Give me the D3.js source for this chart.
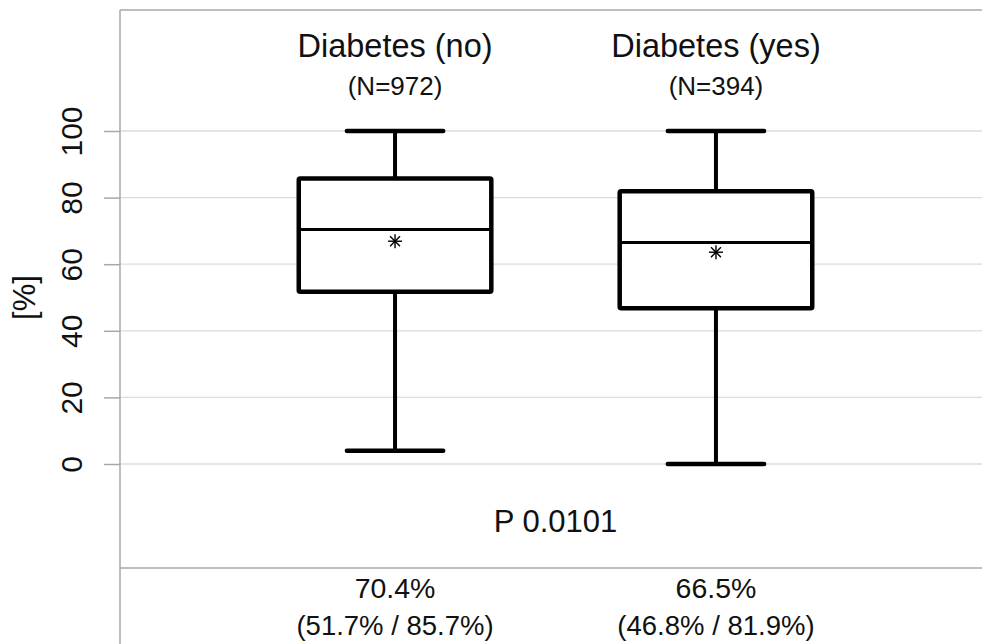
<!DOCTYPE html>
<html>
<head>
<meta charset="utf-8">
<script src="https://cdn.jsdelivr.net/npm/d3@7"></script>
<style>
  body { margin: 0; background: #fff; }
  text { font-family: "Liberation Sans", Arial, sans-serif; fill: #111; }
</style>
</head>
<body>
<svg id="boxplot"></svg>
<script>
// data
var groups = ["Diabetes (no)", "Diabetes (yes)"];
var counts = ["(N=972)", "(N=394)"];
var mins = [4, 0];
var q1s = [51.7, 46.8];
var medians = [70.4, 66.5];
var q3s = [85.7, 81.9];
var maxs = [100, 100];
var means = [66.9, 63.6];
var yTicks = [0, 20, 40, 60, 80, 100];
var pValue = "P 0.0101";

var width = 982, height = 644;
var plotLeft = 120, plotRight = 991, plotTop = 10, sepY = 568;

var svg = d3.select("svg#boxplot")
  .attr("width", width)
  .attr("height", height);

// scales
var x = d3.scalePoint()
  .domain(groups)
  .range([plotLeft, plotRight])
  .padding(0.857);
var y = d3.scaleLinear()
  .domain([0, 100])
  .range([464, 131]);

var step = x.step();
var boxW = step * 0.6;
var capW = step * 0.3;

// grid lines
svg.append("g")
  .selectAll("line")
  .data(yTicks)
  .enter().append("line")
  .attr("x1", plotLeft)
  .attr("x2", width)
  .attr("y1", function (d) { return y(d); })
  .attr("y2", function (d) { return y(d); })
  .attr("stroke", "#dcdcdc")
  .attr("stroke-width", 1.3);

// frame
svg.append("line")
  .attr("x1", plotLeft).attr("x2", width)
  .attr("y1", plotTop).attr("y2", plotTop)
  .attr("stroke", "#a8a8a8").attr("stroke-width", 1.5);
svg.append("line")
  .attr("x1", plotLeft).attr("x2", width)
  .attr("y1", sepY).attr("y2", sepY)
  .attr("stroke", "#a8a8a8").attr("stroke-width", 1.5);
svg.append("line")
  .attr("x1", plotLeft).attr("x2", plotLeft)
  .attr("y1", plotTop).attr("y2", height)
  .attr("stroke", "#a8a8a8").attr("stroke-width", 1.5);

// y axis
var yAxis = svg.append("g")
  .attr("transform", "translate(" + plotLeft + ",0)")
  .call(d3.axisLeft(y).tickValues(yTicks).tickSize(16).tickPadding(22));
yAxis.select(".domain").remove();
yAxis.selectAll(".tick line").attr("stroke", "#a8a8a8").attr("stroke-width", 1.5);
yAxis.selectAll(".tick text")
  .style("font-size", "30px")
  .attr("fill", "#111")
  .attr("x", null).attr("dy", null)
  .attr("text-anchor", "middle")
  .attr("transform", "translate(-38,0) rotate(-90)");

svg.append("text")
  .attr("transform", "translate(35," + y(50) + ") rotate(-90)")
  .attr("text-anchor", "middle")
  .style("font-size", "31px")
  .text("[%]");

// group labels
svg.selectAll(".grp")
  .data(groups)
  .enter().append("text")
  .attr("class", "grp")
  .attr("x", function (d) { return x(d); })
  .attr("y", 57)
  .attr("text-anchor", "middle")
  .style("font-size", "32.5px")
  .text(function (d) { return d; });
svg.selectAll(".cnt")
  .data(groups)
  .enter().append("text")
  .attr("class", "cnt")
  .attr("x", function (d) { return x(d); })
  .attr("y", 95)
  .attr("text-anchor", "middle")
  .style("font-size", "26px")
  .text(function (d, i) { return counts[i]; });

// boxes
var boxes = svg.selectAll(".box")
  .data(groups)
  .enter().append("g")
  .attr("class", "box");

boxes.append("line")
  .attr("x1", function (d) { return x(d); })
  .attr("x2", function (d) { return x(d); })
  .attr("y1", function (d, i) { return y(maxs[i]); })
  .attr("y2", function (d, i) { return y(q3s[i]); })
  .attr("stroke", "#000").attr("stroke-width", 4);
boxes.append("line")
  .attr("x1", function (d) { return x(d); })
  .attr("x2", function (d) { return x(d); })
  .attr("y1", function (d, i) { return y(q1s[i]); })
  .attr("y2", function (d, i) { return y(mins[i]); })
  .attr("stroke", "#000").attr("stroke-width", 4);
[maxs, mins].forEach(function (arr) {
  boxes.append("line")
    .attr("x1", function (d) { return x(d) - capW / 2; })
    .attr("x2", function (d) { return x(d) + capW / 2; })
    .attr("y1", function (d, i) { return y(arr[i]); })
    .attr("y2", function (d, i) { return y(arr[i]); })
    .attr("stroke", "#000").attr("stroke-width", 4.5)
    .attr("stroke-linecap", "round");
});
boxes.append("rect")
  .attr("x", function (d) { return x(d) - boxW / 2; })
  .attr("width", boxW)
  .attr("y", function (d, i) { return y(q3s[i]); })
  .attr("height", function (d, i) { return y(q1s[i]) - y(q3s[i]); })
  .attr("fill", "#fff")
  .attr("stroke", "#000").attr("stroke-width", 4.5)
  .attr("rx", 1.5);
boxes.append("line")
  .attr("x1", function (d) { return x(d) - boxW / 2; })
  .attr("x2", function (d) { return x(d) + boxW / 2; })
  .attr("y1", function (d, i) { return y(medians[i]); })
  .attr("y2", function (d, i) { return y(medians[i]); })
  .attr("stroke", "#000").attr("stroke-width", 3);

// mean asterisk
[0, 45, 90, 135].forEach(function (a) {
  var r = 7, rad = a * Math.PI / 180;
  boxes.append("line")
    .attr("x1", function (d) { return x(d) - r * Math.cos(rad); })
    .attr("x2", function (d) { return x(d) + r * Math.cos(rad); })
    .attr("y1", function (d, i) { return y(means[i]) - r * Math.sin(rad); })
    .attr("y2", function (d, i) { return y(means[i]) + r * Math.sin(rad); })
    .attr("stroke", "#000").attr("stroke-width", 1.4);
});

// p value
svg.append("text")
  .attr("x", (x(groups[0]) + x(groups[1])) / 2)
  .attr("y", 532)
  .attr("text-anchor", "middle")
  .style("font-size", "31px")
  .text(pValue);

// summary below
svg.selectAll(".med")
  .data(groups)
  .enter().append("text")
  .attr("class", "med")
  .attr("x", function (d) { return x(d); })
  .attr("y", 598)
  .attr("text-anchor", "middle")
  .style("font-size", "28.5px")
  .text(function (d, i) { return medians[i].toFixed(1) + "%"; });
svg.selectAll(".iqr")
  .data(groups)
  .enter().append("text")
  .attr("class", "iqr")
  .attr("x", function (d) { return x(d); })
  .attr("y", 635)
  .attr("text-anchor", "middle")
  .style("font-size", "27.5px")
  .text(function (d, i) { return "(" + q1s[i].toFixed(1) + "% / " + q3s[i].toFixed(1) + "%)"; });
</script>
</body>
</html>
